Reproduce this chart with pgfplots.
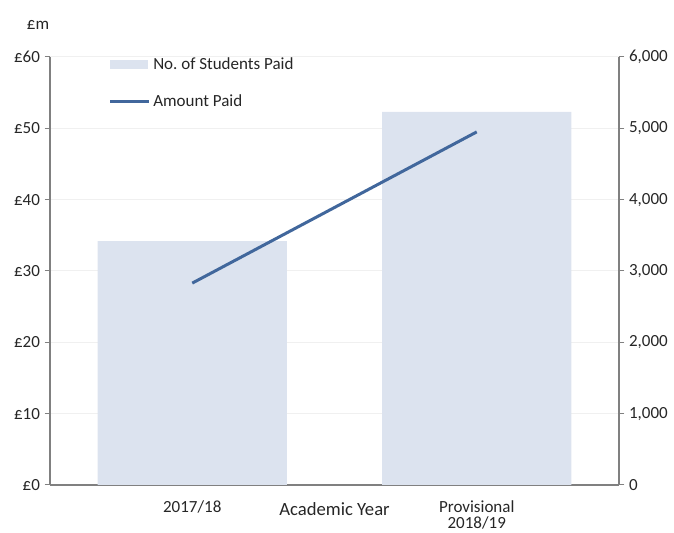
\documentclass[border=0pt]{standalone}
\usepackage{fontspec}
\setmainfont{Carlito}
\usepackage{pgfplots}
\pgfplotsset{compat=1.18}
\definecolor{barfill}{RGB}{220,227,239}
\definecolor{linecol}{RGB}{65,103,156}
\definecolor{axgray}{RGB}{128,128,128}
\definecolor{gridgray}{RGB}{240,240,240}
\definecolor{txt}{RGB}{38,38,38}

\begin{document}
\begin{tikzpicture}
\pgfplotsset{
  common/.style={
    scale only axis, width=426.75pt, height=321pt,
    xmin=-0.5, xmax=1.5, clip=false,
    /pgf/number format/assume math mode=true,
    tick label style={font=\fontsize{12.75}{15}\selectfont, text=txt},
    axis line style={axgray, line width=0.9pt},
    major tick length=4pt,
    tick align=outside,
    tick style={axgray, line width=0.75pt},
  }
}
% Students paid (bars, right-hand scale)
\begin{axis}[common, name=bars,
  axis y line*=right, axis x line*=bottom,
  ymin=0, ymax=6000, ytick={0,1000,...,6000},
  yticklabel style={/pgf/number format/.cd, 1000 sep={,}},
  ymajorgrids, grid style={gridgray, line width=0.75pt},
  xtick={0,1}, xticklabels={2017/18, {Provisional\\2018/19}},
  xticklabel style={align=center, yshift=-4.5pt, font=\fontsize{12.75}{12}\selectfont},
  x tick style={draw=none},
]
\addplot[ybar, bar width=0.665, bar shift=0pt, fill=barfill, draw=none]
  coordinates {(0,3420) (1,5230)};
\node[font=\fontsize{14}{16}\selectfont, text=txt] at (rel axis cs:0.5,0) [yshift=-18pt] {Academic Year};
\end{axis}
% Amount paid (line, left-hand scale)
\begin{axis}[common,
  axis y line*=left, axis x line=none,
  ymin=0, ymax=60, ytick={0,10,...,60},
  yticklabel={£\pgfmathprintnumber{\tick}},
  legend cell align=left,
  legend style={draw=none, fill=none, at={(0,1)}, anchor=north west,
    xshift=41pt, yshift=4pt, row sep=14pt,
    font=\fontsize{12.75}{15}\selectfont, text=txt},
]
\addlegendimage{legend image code/.code={\fill[barfill] (0pt,-3pt) rectangle (27.75pt,3pt);}}
\addlegendentry{No.\ of Students Paid}
\addplot[linecol, line width=2.25pt,
  legend image code/.code={\draw[linecol, line width=2.25pt] (0pt,0pt) -- (29pt,0pt);}]
  coordinates {(0,28.3) (1,49.5)};
\addlegendentry{Amount Paid}
\node[font=\fontsize{12.75}{15}\selectfont, text=txt] at (rel axis cs:0,1) [xshift=-9pt, yshift=24pt] {£m};
\end{axis}
\pgfresetboundingbox
\useasboundingbox ([shift={(-37.5pt,-36pt)}]bars.south west) rectangle ([shift={(41.25pt,42.75pt)}]bars.north east);
\end{tikzpicture}
\end{document}
